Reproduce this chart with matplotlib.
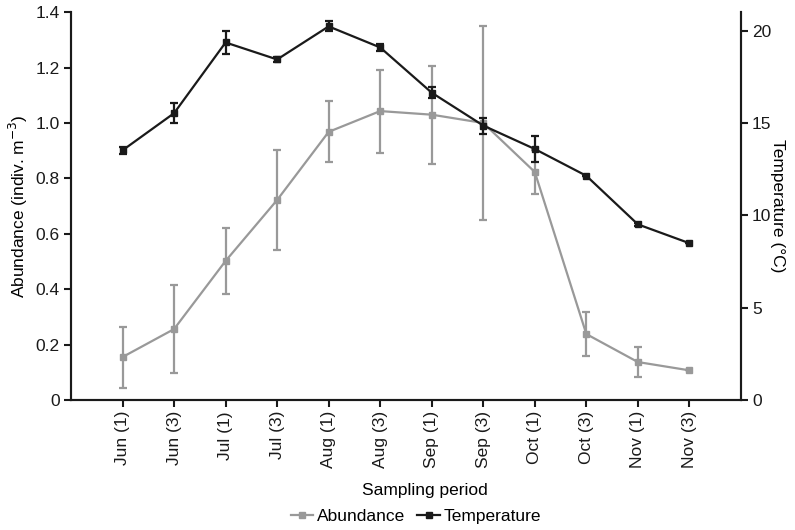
import numpy as np
import matplotlib.pyplot as plt
from matplotlib.lines import Line2D

plt.rcParams["font.family"] = ["Liberation Sans", "DejaVu Sans"]
plt.rcParams["font.size"] = 12.5

# Datos
periodos = ["Jun (1)", "Jun (3)", "Jul (1)", "Jul (3)", "Aug (1)", "Aug (3)",
            "Sep (1)", "Sep (3)", "Oct (1)", "Oct (3)", "Nov (1)", "Nov (3)"]
abundancia = [0.155, 0.256, 0.502, 0.722, 0.968, 1.043, 1.03, 1.0, 0.823, 0.238, 0.137, 0.107]
abundancia_err = [0.11, 0.16, 0.12, 0.18, 0.11, 0.15, 0.177, 0.35, 0.08, 0.08, 0.053, 0.0]
temperatura = [13.52, 15.53, 19.36, 18.44, 20.23, 19.09, 16.64, 14.86, 13.59, 12.14, 9.51, 8.49]
temperatura_err = [0.2, 0.55, 0.6, 0.15, 0.27, 0.2, 0.3, 0.43, 0.72, 0.0, 0.1, 0.0]

x = np.arange(len(periodos))
gris = "#999999"
negro = "#1a1a1a"

fig = plt.figure(figsize=(7.95, 5.3), dpi=100)
ax = fig.add_axes([0.0893, 0.2453, 0.8427, 0.7317])
ax2 = ax.twinx()

ax.errorbar(x, abundancia, yerr=abundancia_err, color=gris, ecolor=gris,
            marker="s", markersize=4.5, linewidth=1.6, elinewidth=1.6,
            capsize=3, capthick=1.6)
ax2.errorbar(x, temperatura, yerr=temperatura_err, color=negro, ecolor=negro,
             marker="s", markersize=4.5, linewidth=1.6, elinewidth=1.6,
             capsize=3, capthick=1.6)

ax.set_xlim(-1, 12)
ax.set_ylim(0, 1.4)
ax2.set_ylim(0, 21)
ax.set_xticks(x)
ax.set_xticklabels(periodos, rotation=90)
ax.set_yticks(np.arange(0, 1.41, 0.2))
ax.set_yticklabels(["0"] + [f"{v:.1f}" for v in np.arange(0.2, 1.41, 0.2)])
ax2.set_yticks([0, 5, 10, 15, 20])

for a in (ax, ax2):
    a.spines["top"].set_visible(False)
    for s in a.spines.values():
        s.set_linewidth(1.5)
        s.set_color(negro)
    a.tick_params(width=1.5, length=5, color=negro, labelcolor=negro, pad=3)

ax.set_xlabel("Sampling period")
ax.xaxis.set_label_coords(0.528, -0.214)
ax.set_ylabel("Abundance (indiv. m$^{-3}$)")
ax2.set_ylabel("Temperature (\u00b0C)", rotation=270, labelpad=10)

handles = [Line2D([], [], color=gris, marker="s", markersize=4.5, linewidth=1.6),
           Line2D([], [], color=negro, marker="s", markersize=4.5, linewidth=1.6)]
fig.legend(handles, ["Abundance", "Temperature"], loc="center",
           bbox_to_anchor=(0.523, 0.025), ncol=2, frameon=False,
           handlelength=1.3, handletextpad=0.2, columnspacing=0.7,
           borderpad=0)

fig.savefig("out.png", dpi=100)
